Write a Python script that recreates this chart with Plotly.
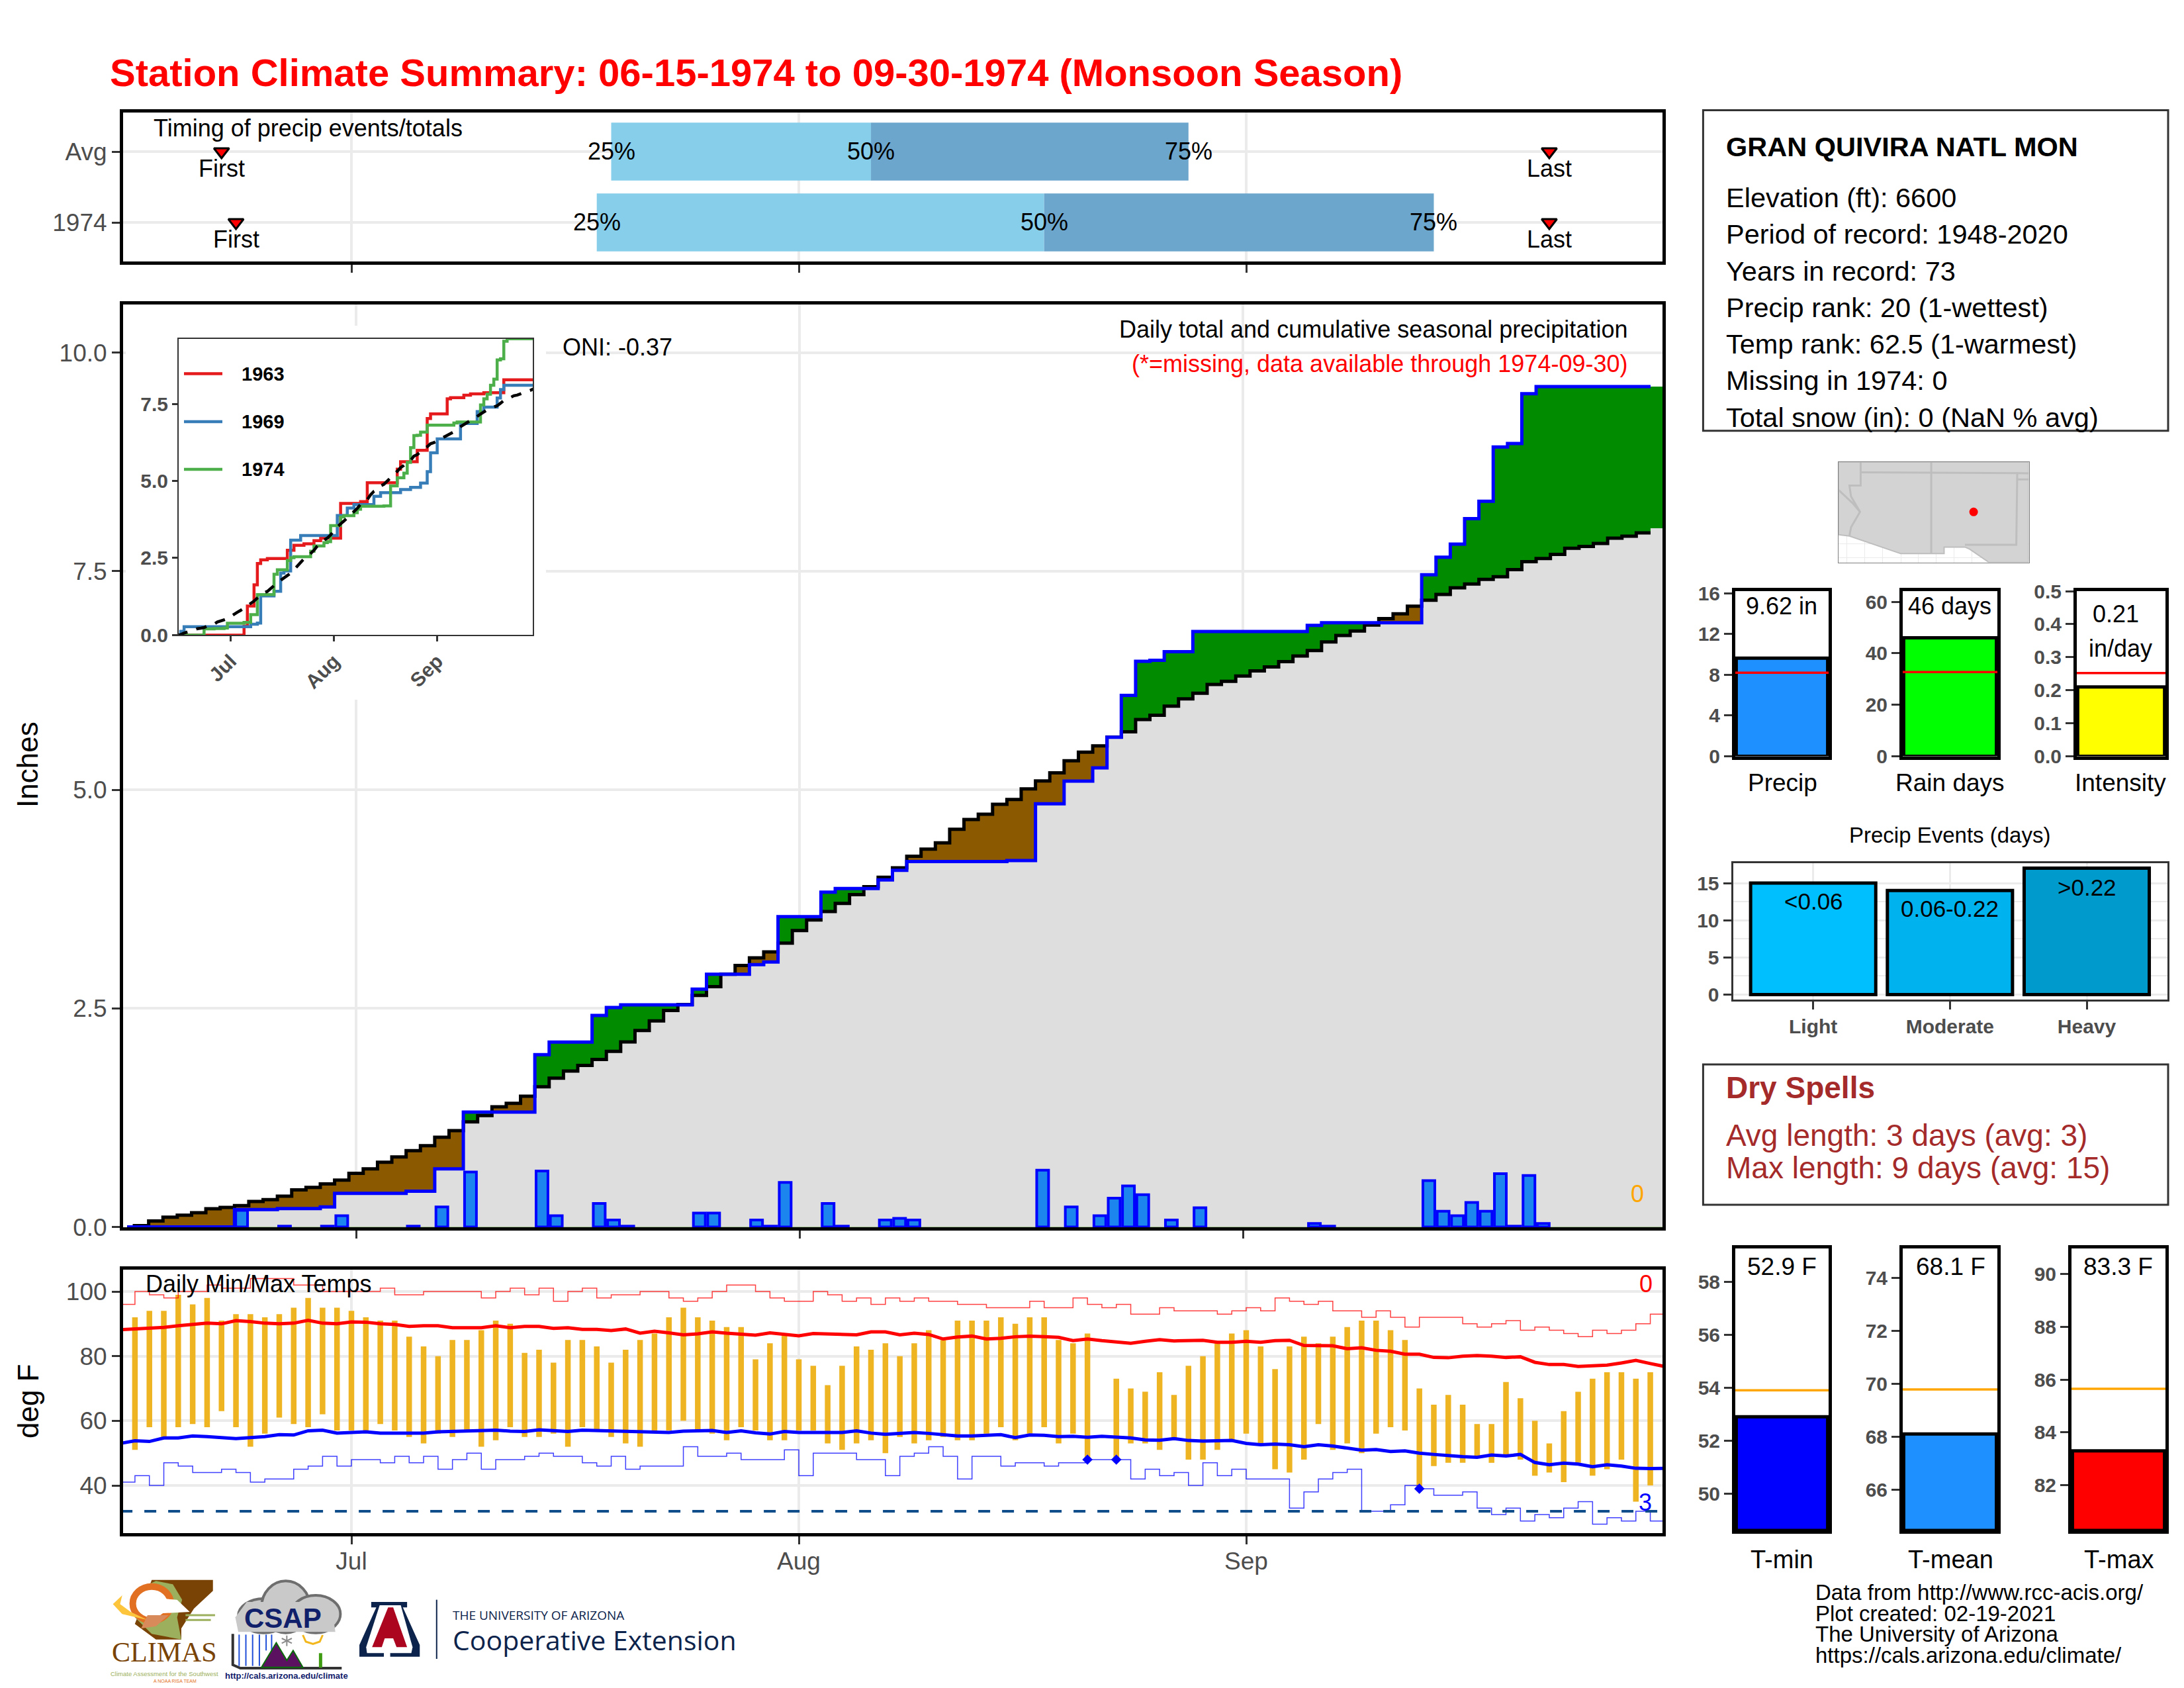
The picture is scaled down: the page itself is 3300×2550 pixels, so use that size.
# Station climate summary, monsoon season 1974

import plotly.graph_objects as go

W, H = 3300, 2550
FONT = 'Liberation Sans'

# day index: 0 = Jun 15, 16 = Jul 1, 47 = Aug 1, 78 = Sep 1, 107 = Sep 30
DAYS = list(range(108))
MONTH_TICKS = [16, 47, 78]
MONTH_LABELS = ['Jul', 'Aug', 'Sep']

# timing bars
TIMING_ROWS = ['1974', 'Avg']
TIMING_Q25 = [33, 34]
TIMING_Q50 = [64, 52]
TIMING_Q75 = [91, 74]
TIMING_FIRST = [8, 7]
TIMING_LAST = [99, 99]

# daily precip (inches)
PRECIP = [
    0, 0, 0, 0, 0, 0, 0, 0, .19, 0,
    0, .01, 0, 0, .01, .13, 0, 0, 0, 0,
    .01, 0, .23, 0, .63, 0, 0, 0, 0, .64,
    .13, 0, 0, .27, .08, .01, 0, 0, 0, 0,
    .16, .16, 0, 0, .08, .01, .51, 0, 0, .27,
    .01, 0, 0, .08, .10, .08, 0, 0, 0, 0,
    0, 0, 0, 0, .65, 0, .23, 0, .13, .33,
    .47, .37, 0, .08, 0, .22, 0, 0, 0, 0,
    0, 0, 0, .04, .01, 0, 0, 0, 0, 0,
    0, .53, .18, .13, .28, .18, .61, .01, .59, .04,
    0, 0, 0, 0, 0, 0, 0, 0,
]

# cumulative precip this season
CUM_1974 = [
    0, 0, 0, 0, 0, 0, 0, 0, .20, .20,
    .20, .21, .21, .21, .23, .385, .385, .385, .385, .385,
    .41, .41, .665, .665, 1.315, 1.315, 1.315, 1.315, 1.315, 1.97,
    2.115, 2.115, 2.115, 2.42, 2.51, 2.54, 2.54, 2.54, 2.54, 2.54,
    2.72, 2.89, 2.89, 2.89, 3.0, 3.03, 3.55, 3.55, 3.55, 3.83,
    3.87, 3.87, 3.87, 3.97, 4.08, 4.18, 4.18, 4.18, 4.18, 4.18,
    4.18, 4.18, 4.19, 4.19, 4.84, 4.84, 5.10, 5.10, 5.25, 5.60,
    6.08, 6.47, 6.48, 6.58, 6.58, 6.81, 6.81, 6.81, 6.81, 6.81,
    6.81, 6.81, 6.81, 6.88, 6.91, 6.91, 6.91, 6.91, 6.91, 6.91,
    6.91, 7.46, 7.66, 7.81, 8.10, 8.30, 8.92, 8.96, 9.53, 9.61,
    9.61, 9.61, 9.61, 9.61, 9.61, 9.61, 9.61, 9.61,
]

# cumulative precip, long term average
CUM_AVG = [
    0, .016, .068, .112, .136, .164, .208, .224, .244, .293,
    .313, .353, .425, .453, .493, .537, .613, .665, .741, .802,
    .874, .930, 1.026, 1.102, 1.202, 1.275, 1.375, 1.415, 1.495, 1.603,
    1.703, 1.784, 1.848, 1.916, 2.008, 2.116, 2.248, 2.357, 2.477, 2.545,
    2.649, 2.749, 2.89, 2.99, 3.078, 3.146, 3.246, 3.391, 3.511, 3.607,
    3.70, 3.80, 3.892, 4.0, 4.108, 4.24, 4.321, 4.393, 4.549, 4.661,
    4.721, 4.834, 4.89, 5.01, 5.102, 5.194, 5.331, 5.431, 5.503, 5.603,
    5.663, 5.804, 5.852, 5.956, 6.04, 6.105, 6.205, 6.24, 6.30, 6.36,
    6.405, 6.465, 6.53, 6.593, 6.69, 6.764, 6.815, 6.884, 6.958, 7.012,
    7.10, 7.168, 7.234, 7.309, 7.354, 7.407, 7.437, 7.518, 7.608, 7.644,
    7.692, 7.761, 7.782, 7.817, 7.877, 7.901, 7.937, 7.99,
]

# inset years, only the days where the total changes
YEAR_1963_DAYS = [0, 20, 21, 23, 24, 25, 27, 33, 35, 38, 41, 43, 49, 55, 57, 66, 67, 72, 75, 76, 81, 82, 86, 88, 92, 98, 107]
YEAR_1963 = [0, .29, .94, 1.63, 2.32, 2.44, 2.48, 2.75, 2.91, 2.96, 3.06, 3.14, 4.27, 4.33, 4.94, 5.38, 5.62, 5.99, 7.02, 7.17, 7.66, 7.70, 7.78, 7.82, 7.86, 8.28, 8.28]
YEAR_1969_DAYS = [0, 1, 2, 22, 24, 25, 29, 31, 32, 34, 37, 48, 51, 53, 59, 61, 67, 70, 73, 75, 76, 78, 85, 90, 92, 96, 97, 98, 107]
YEAR_1969 = [0, .12, .27, .35, .39, 1.27, 1.42, 2.01, 2.08, 3.08, 3.23, 3.88, 4.12, 4.23, 4.50, 4.62, 4.72, 4.79, 4.93, 5.30, 5.91, 6.36, 6.86, 7.25, 7.39, 7.69, 7.96, 8.10, 8.10]

# daily temps, deg F (None = no bar that day)
TMAX = [
    None, 92, 94, 94, 99, 96, 98, 91, 93, 93,
    92, 93, 95, 98, 95, 95, 94, 92, 91, 91,
    86, 83, 80, 85, 85, 88, 91, 90, 81, 82,
    78, 85, 85, 83, 78, 82, 85, 87, 92, 95,
    92, 91, 89, 89, 79, 84, 87, 79, 77, 71,
    77, 83, 82, 84, 80, 84, 88, 85, 91, 91,
    91, 92, 90, 92, 92, 85, 84, 87, None, 73,
    70, 69, 75, 68, 77, 80, 84, 87, 88, 83,
    76, 83, 86, 84, 86, 89, 91, 91, 88, 85,
    70, 65, 68, 65, 59, 59, 72, 67, 60, 53,
    63, 69, 73, 75, 75, 73, 75, None,
]
TMIN = [
    None, 51, 58, 55, 58, 59, 58, 63, 58, 52,
    56, 61, 59, 58, 62, 57, 57, 57, 59, 57,
    55, 53, 56, 55, 57, 52, 54, 58, 55, 55,
    56, 52, 58, 57, 55, 53, 52, 57, 57, 60,
    57, 56, 54, 58, 57, 54, 54, 57, 57, 53,
    51, 53, 54, 50, 55, 53, 54, 55, 54, 54,
    56, 58, 54, 56, 58, 53, 56, 48, None, 48,
    53, 53, 51, 54, 48, 48, 51, 54, 56, 53,
    45, 44, 48, 59, 51, 53, 50, 56, 58, 57,
    39, 46, 47, 47, 49, 47, 49, 48, 43, 44,
    41, 47, 43, 45, 48, 35, 40, None,
]

# highest and lowest on record for each day
REC_MAX = [
    96, 100, 99, 98, 100, 100, 102, 101, 101, 104,
    104, 104, 102, 102, 100, 100, 100, 100, 101, 99,
    99, 100, 100, 100, 100, 98, 100, 101, 99, 101,
    97, 100, 101, 98, 99, 99, 100, 100, 98, 97,
    98, 100, 102, 102, 100, 98, 97, 97, 100, 99,
    97, 98, 96, 98, 97, 98, 97, 97, 96, 96,
    95, 95, 95, 97, 95, 95, 98, 96, 95, 96,
    93, 93, 95, 94, 94, 94, 93, 94, 95, 94,
    98, 97, 96, 97, 94, 94, 92, 94, 92, 89,
    92, 92, 92, 90, 89, 90, 91, 88, 89, 88,
    87, 86, 88, 87, 88, 90, 93, 93,
]
REC_MIN = [
    41, 43, 40, 47, 46, 44, 44, 45, 44, 41,
    42, 42, 45, 46, 49, 46, 48, 48, 47, 49,
    47, 49, 45, 48, 50, 45, 48, 48, 49, 50,
    49, 49, 47, 46, 49, 45, 46, 46, 46, 52,
    49, 49, 50, 48, 48, 48, 51, 43, 50, 50,
    50, 48, 48, 43, 49, 50, 52, 49, 42, 49,
    49, 46, 47, 47, 46, 47, 47, 48, 48, 48,
    42, 45, 43, 44, 40, 47, 43, 45, 42, 42,
    42, 33, 38, 42, 44, 45, 32, 32, 34, 40,
    39, 37, 37, 38, 33, 31, 33, 29, 31, 30,
    33, 35, 28, 30, 29, 32, 29, 29,
]

# long term average daily max / min
AVG_MAX = [
    88.2, 88.4, 88.7, 88.9, 89.4, 89.8, 90.2, 90.0, 91.0, 90.7,
    90.2, 90.0, 90.2, 91.1, 90.2, 90.0, 90.6, 90.5, 90.0, 89.8,
    89.2, 89.4, 89.4, 88.8, 88.8, 88.8, 89.4, 88.8, 89.2, 89.2,
    88.6, 88.8, 88.3, 88.3, 87.9, 88.4, 87.1, 87.7, 87.2, 86.6,
    86.9, 87.5, 87.1, 86.9, 86.5, 87.2, 86.7, 86.3, 87.0, 86.8,
    86.7, 86.6, 87.5, 87.5, 86.6, 87.1, 86.7, 85.3, 85.9, 86.2,
    85.3, 85.5, 86.0, 86.2, 86.0, 85.8, 84.8, 85.3, 84.8, 84.3,
    84.0, 84.6, 85.1, 84.7, 84.7, 84.9, 84.3, 84.3, 84.6, 84.3,
    84.8, 84.9, 83.3, 83.2, 83.2, 82.3, 82.6, 81.8, 81.5, 80.6,
    80.6, 79.6, 79.5, 80.0, 80.2, 80.0, 79.6, 79.8, 78.1, 77.4,
    77.4, 76.8, 77.0, 77.2, 77.9, 78.7, 77.7, 76.8,
]
AVG_MIN = [
    53.0, 53.8, 53.6, 54.7, 54.7, 55.3, 55.1, 54.9, 54.5, 54.8,
    55.1, 55.7, 55.6, 56.9, 57.1, 56.2, 56.5, 56.6, 56.2, 56.2,
    56.4, 56.2, 56.6, 56.7, 56.9, 56.9, 57.1, 56.8, 56.7, 57.2,
    57.0, 56.7, 57.1, 57.0, 57.0, 56.8, 56.8, 56.6, 56.4, 56.8,
    56.9, 57.0, 56.4, 56.9, 56.3, 55.9, 56.7, 56.4, 56.4, 56.4,
    56.4, 56.9, 56.2, 55.8, 56.0, 56.4, 56.1, 55.6, 55.3, 55.3,
    55.4, 55.7, 54.8, 55.6, 55.5, 55.1, 55.2, 54.9, 55.2, 54.9,
    54.7, 54.1, 54.0, 54.5, 53.9, 53.7, 53.9, 53.9, 53.0, 52.6,
    52.8, 52.6, 52.0, 52.6, 52.2, 51.5, 50.9, 51.1, 50.5, 50.7,
    50.0, 49.6, 49.2, 48.9, 48.7, 49.4, 49.1, 49.6, 47.1, 46.4,
    46.9, 46.6, 45.8, 46.4, 46.0, 45.3, 45.2, 45.3,
]
RECORD_DAYS = [67, 69, 90]
RECORD_LOWS = [48, 48, 39]
FREEZE_DAYS = [0, 107]
FREEZE_F = [32, 32]

# right hand panels
SEASON_VALUES = [9.62, 46, 0.21]
SEASON_AVGS = [8.2, 32.7, 0.252]
EVENT_NAMES = ['Light', 'Moderate', 'Heavy']
EVENT_DAYS = [15, 14, 17]
TEMP_VALUES = [52.9, 68.1, 83.3]
TEMP_AVGS = [53.9, 69.78, 85.65]

INFO_LINES = ['Elevation (ft): 6600', 'Period of record: 1948-2020', 'Years in record: 73',
              'Precip rank: 20 (1-wettest)', 'Temp rank: 62.5 (1-warmest)', 'Missing in 1974: 0',
              'Total snow (in): 0 (NaN % avg)']
FOOTER_LINES = ['Data from http://www.rcc-acis.org/', 'Plot created: 02-19-2021',
                'The University of Arizona', 'https://cals.arizona.edu/climate/']


def dom_x(left, right):
    return [left / W, right / W]


def dom_y(top, bottom):
    return [1 - bottom / H, 1 - top / H]


def axis_range(p_lo, p_hi, p_a, v_a, p_b, v_b):
    # values at the two panel edges, from two ticks measured in pixels
    k = (v_b - v_a) / (p_b - p_a)
    return [v_a + (p_lo - p_a) * k, v_a + (p_hi - p_a) * k]


def note(x, y, text, size, color='black', anchor='center'):
    return dict(xref='paper', yref='paper', x=x / W, y=1 - y / H, text=text, showarrow=False,
                xanchor=anchor, yanchor='middle', font=dict(family=FONT, size=size, color=color))


def frame(left, top, right, bottom, color='#333333', width=3, fill='rgba(0,0,0,0)'):
    return dict(type='rect', xref='paper', yref='paper', x0=left / W, x1=right / W,
                y0=1 - bottom / H, y1=1 - top / H, line=dict(color=color, width=width),
                fillcolor=fill, layer='above')


def logo_xy(zx, zy):
    return (140 + zx / 1.568) / W, 1 - (2360 + zy / 3) / H


def logo_poly(points, fill, line=None, width=0, close=True):
    parts = []
    for n, (zx, zy) in enumerate(points):
        px, py = logo_xy(zx, zy)
        parts.append(('M' if n == 0 else 'L') + f'{px:.5f},{py:.5f}')
    return dict(type='path', xref='paper', yref='paper', path=' '.join(parts) + (' Z' if close else ''),
                fillcolor=fill, line=dict(color=line or 'rgba(0,0,0,0)', width=width), layer='above')


def logo_oval(x0, y0, x1, y1, fill, line=None, width=0):
    ax, ay = logo_xy(x0, y0)
    bx, by = logo_xy(x1, y1)
    return dict(type='circle', xref='paper', yref='paper', x0=ax, x1=bx, y0=by, y1=ay,
                fillcolor=fill, line=dict(color=line or 'rgba(0,0,0,0)', width=width), layer='above')


fig = go.Figure()
annotations = []
shapes = []

tick_font = dict(family=FONT, size=37, color='#4D4D4D')
small_font = dict(family=FONT, size=30, color='#4D4D4D', weight='bold')
panel = dict(showline=True, mirror=True, linecolor='black', linewidth=5, zeroline=False,
             ticks='outside', ticklen=12, tickwidth=3, tickcolor='#333333', tickfont=tick_font,
             gridcolor='#EBEBEB', gridwidth=4, showgrid=True)
month_x = dict(panel, tickmode='array', tickvals=MONTH_TICKS, ticktext=MONTH_LABELS)

# ---- timing panel
TOP_X = axis_range(186, 2512, 531, 16, 1883, 78)
fig.add_trace(go.Bar(y=[0, 1], x=[b - a for a, b in zip(TIMING_Q25, TIMING_Q50)], base=TIMING_Q25, orientation='h',
                     width=.82, marker=dict(color='#87CEEB', line=dict(width=0)), xaxis='x', yaxis='y'))
fig.add_trace(go.Bar(y=[0, 1], x=[b - a for a, b in zip(TIMING_Q50, TIMING_Q75)], base=TIMING_Q50, orientation='h',
                     width=.82, marker=dict(color='#6CA6CD', line=dict(width=0)), xaxis='x', yaxis='y'))
for xs in (TIMING_FIRST, TIMING_LAST):
    fig.add_trace(go.Scatter(x=xs, y=[0, 1], mode='markers', xaxis='x', yaxis='y',
                             marker=dict(symbol='triangle-down', size=20, color='red', line=dict(color='black', width=3))))
for row in (0, 1):
    for xs, label in ((TIMING_Q25, '25%'), (TIMING_Q50, '50%'), (TIMING_Q75, '75%')):
        annotations.append(dict(xref='x', yref='y', x=xs[row], y=row, text=label, showarrow=False,
                                font=dict(family=FONT, size=36, color='black')))
    annotations.append(dict(xref='x', yref='y', x=TIMING_FIRST[row], y=row, yshift=-26, text='First', showarrow=False,
                            font=dict(family=FONT, size=36, color='black')))
    annotations.append(dict(xref='x', yref='y', x=TIMING_LAST[row], y=row, yshift=-26, text='Last', showarrow=False,
                            font=dict(family=FONT, size=36, color='black')))
annotations.append(note(230, 193, 'Timing of precip events/totals', 36, anchor='left'))

# ---- main precip panel, painted back to front so only the gap keeps its colour
MAIN_X = axis_range(186, 2512, 538, 16, 1878, 78)
MAIN_Y = axis_range(1854, 460, 1853.6, 0, 532.6, 10)
FILL_DAYS = DAYS + [108]
FILL_AVG = CUM_AVG + [CUM_AVG[-1]]
FILL_OBS = CUM_1974 + [CUM_1974[-1]]
FILL_LOW = [min(a, b) for a, b in zip(FILL_AVG, FILL_OBS)]
for ys, col in ((FILL_AVG, '#8B5A00'), (FILL_OBS, '#008B00'), (FILL_LOW, '#DEDEDE')):
    fig.add_trace(go.Scatter(x=FILL_DAYS, y=ys, mode='lines', line=dict(width=0, shape='hvh'), fill='tozeroy',
                             fillcolor=col, xaxis='x2', yaxis='y2'))

# bars go on an overlay axis, otherwise the filled areas would cover them
fig.add_trace(go.Bar(x=DAYS, y=[v if v else None for v in PRECIP], width=.83,
                     marker=dict(color='#1C86EE', line=dict(color='#0000FF', width=4)), xaxis='x2', yaxis='y3'))
LINE_DAYS = DAYS[:107] + [106.5]
fig.add_trace(go.Scatter(x=LINE_DAYS, y=CUM_AVG[:107] + [CUM_AVG[106]], mode='lines',
                         line=dict(color='black', width=5, shape='hvh'), xaxis='x2', yaxis='y3'))
fig.add_trace(go.Scatter(x=LINE_DAYS, y=CUM_1974[:107] + [CUM_1974[106]], mode='lines',
                         line=dict(color='#0000FF', width=5, shape='hvh'), xaxis='x2', yaxis='y3'))


# white block behind the inset hides the grid there
def main_px_x(px):
    return MAIN_X[0] + (px - 186) * (MAIN_X[1] - MAIN_X[0]) / (2512 - 186)


def main_px_y(py):
    return MAIN_Y[0] + (py - 1854) * (MAIN_Y[1] - MAIN_Y[0]) / (460 - 1854)


shapes.append(dict(type='rect', xref='x2', yref='y2', x0=main_px_x(190), x1=main_px_x(825), y0=main_px_y(1057), y1=main_px_y(492),
                   fillcolor='white', line=dict(width=0), layer='between'))
annotations.append(note(848, 524, 'ONI: -0.37', 36, anchor='left'))
annotations.append(note(2461, 497, 'Daily total and cumulative seasonal precipitation', 36, anchor='right'))
annotations.append(note(2461, 549, '(*=missing, data available through 1974-09-30)', 36, color='red', anchor='right'))
annotations.append(note(2474, 1804, '0', 36, color='orange'))
annotations.append(note(42, 1155, 'Inches', 44))
annotations[-1]['textangle'] = -90

# ---- inset of selected years
INSET_X = axis_range(270, 805, 348.6, 16, 660.6, 78)
INSET_Y = axis_range(959.4, 512, 959.4, 0, 610, 7.5)
for xs, ys, col in ((YEAR_1963_DAYS, YEAR_1963, '#E41A1C'), (YEAR_1969_DAYS, YEAR_1969, '#377EB8'), (DAYS, CUM_1974, '#4DAF4A')):
    fig.add_trace(go.Scatter(x=xs, y=ys, mode='lines', line=dict(color=col, width=4.5, shape='hv'), xaxis='x5', yaxis='y5'))
fig.add_trace(go.Scatter(x=DAYS, y=CUM_AVG, mode='lines', line=dict(color='black', width=4.5, dash='16px,14px'), xaxis='x5', yaxis='y5'))
for label, col, py in (('1963', '#E41A1C', 564.5), ('1969', '#377EB8', 637), ('1974', '#4DAF4A', 709)):
    shapes.append(dict(type='line', xref='paper', yref='paper', x0=278 / W, x1=336 / W, y0=1 - py / H, y1=1 - py / H,
                       line=dict(color=col, width=4.5), layer='above'))
    annotations.append(note(363, py, f'<b>{label}</b>', 29, anchor='left'))

# ---- daily temps panel
fig.add_trace(go.Bar(x=DAYS, base=TMIN, y=[None if hi is None else hi - lo for hi, lo in zip(TMAX, TMIN)], width=.39,
                     marker=dict(color='#EEB422', line=dict(width=0)), xaxis='x4', yaxis='y4'))
fig.add_trace(go.Scatter(x=DAYS, y=REC_MAX, mode='lines', line=dict(color='rgba(255,0,0,.75)', width=1.5, shape='hv'), xaxis='x4', yaxis='y4'))
fig.add_trace(go.Scatter(x=DAYS, y=REC_MIN, mode='lines', line=dict(color='rgba(0,0,255,.75)', width=1.5, shape='hv'), xaxis='x4', yaxis='y4'))
fig.add_trace(go.Scatter(x=FREEZE_DAYS, y=FREEZE_F, mode='lines', line=dict(color='#104E8B', width=4, dash='18px,18px'), xaxis='x4', yaxis='y4'))
fig.add_trace(go.Scatter(x=DAYS, y=AVG_MAX, mode='lines', line=dict(color='red', width=5), xaxis='x4', yaxis='y4'))
fig.add_trace(go.Scatter(x=DAYS, y=AVG_MIN, mode='lines', line=dict(color='#0000FF', width=5), xaxis='x4', yaxis='y4'))
fig.add_trace(go.Scatter(x=RECORD_DAYS, y=RECORD_LOWS, mode='markers', marker=dict(symbol='diamond', size=12, color='#0000FF'), xaxis='x4', yaxis='y4'))
annotations.append(note(218, 1939, 'Daily Min/Max Temps', 36, anchor='left'))
annotations.append(note(2487, 1939, '0', 36, color='red'))
annotations.append(note(2486, 2269, '3', 36, color='#0000FF'))
annotations.append(note(42, 2117, 'deg F', 44))
annotations[-1]['textangle'] = -90

TEMP_Y = axis_range(2316, 1918, 1951, 100, 2244, 40)

layout = dict(
    template='none', width=W, height=H, margin=dict(l=0, r=0, t=0, b=0, autoexpand=False), showlegend=False, barmode='overlay',
    paper_bgcolor='white', plot_bgcolor='white', font=dict(family=FONT),
    xaxis=dict(month_x, domain=dom_x(186, 2512), range=TOP_X, anchor='y', showticklabels=False),
    yaxis=dict(panel, domain=dom_y(169.5, 394.5), range=axis_range(394.5, 169.5, 336, 0, 229, 1), anchor='x',
               tickmode='array', tickvals=[0, 1], ticktext=TIMING_ROWS),
    xaxis2=dict(month_x, domain=dom_x(186, 2512), range=MAIN_X, anchor='y2', showticklabels=False),
    yaxis2=dict(panel, domain=dom_y(460, 1854), range=MAIN_Y, anchor='x2', tickmode='array',
                tickvals=[0, 2.5, 5, 7.5, 10], tickformat='.1f'),
    yaxis3=dict(domain=dom_y(460, 1854), range=MAIN_Y, anchor='x2', overlaying='y2', visible=False, showgrid=False),
    xaxis4=dict(month_x, domain=dom_x(186, 2512), range=TOP_X, anchor='y4', ticklabelstandoff=-6),
    yaxis4=dict(panel, domain=dom_y(1918, 2316), range=TEMP_Y, anchor='x4', tickmode='array', tickvals=[40, 60, 80, 100]),
    xaxis5=dict(domain=dom_x(270, 805), range=INSET_X, anchor='y5', showline=True, mirror=True, linecolor='#333333', linewidth=2,
                showgrid=False, zeroline=False, ticks='outside', ticklen=8, tickwidth=3, tickcolor='#333333', tickfont=small_font,
                tickmode='array', tickvals=MONTH_TICKS, ticktext=MONTH_LABELS, tickangle=-45),
    yaxis5=dict(domain=dom_y(512, 959.4), range=INSET_Y, anchor='x5', showline=True, mirror=True, linecolor='#333333', linewidth=2,
                showgrid=False, zeroline=False, ticks='outside', ticklen=8, tickwidth=3, tickcolor='#333333', tickfont=small_font,
                tickmode='array', tickvals=[0, 2.5, 5, 7.5], tickformat='.1f'),
)

# ---- little locator map, outline read in the map's own pixel units
MAP_LAND_X = [491, 1084, 1084, 960, 940, 900, 885, 820, 820, 685, 525, 491, 491]
MAP_LAND_Y = [826, 826, 1055, 1055, 1045, 1025, 1020, 1020, 1035, 1035, 995, 992, 826]
MAP_LINES = [
    ([780, 780], [826, 1035]),
    ([560, 1084], [850, 852]),
    ([560, 560, 525, 530, 558, 530, 525], [826, 880, 880, 905, 940, 975, 995]),
    ([491, 535, 558], [890, 920, 940]),
    ([1048, 1045, 885], [850, 1015, 1015]),
    ([1048, 1084], [866, 866]),
]
MAP_STATION_X = [912]
MAP_STATION_Y = [940]
fig.add_trace(go.Scatter(x=MAP_LAND_X, y=MAP_LAND_Y, mode='lines', fill='toself', fillcolor='#D3D3D3',
                         line=dict(width=2, color='#BEBEBE'), xaxis='x6', yaxis='y6'))
for xs, ys in MAP_LINES:
    fig.add_trace(go.Scatter(x=xs, y=ys, mode='lines', line=dict(color='#BEBEBE', width=3), xaxis='x6', yaxis='y6'))
fig.add_trace(go.Scatter(x=MAP_STATION_X, y=MAP_STATION_Y, mode='markers', marker=dict(color='red', size=13), xaxis='x6', yaxis='y6'))
layout['xaxis6'] = dict(domain=dom_x(2778, 3065.5), range=[491, 1084], anchor='y6', showticklabels=False, ticks='', zeroline=False,
                        tickmode='array', tickvals=[516, 572, 628, 685, 740, 795, 850, 906], showgrid=True, gridcolor='#EBEBEB', gridwidth=1,
                        showline=True, mirror=True, linecolor='#7F7F7F', linewidth=1)
layout['yaxis6'] = dict(domain=dom_y(697.7, 849.6), range=[1055, 826], anchor='x6', showticklabels=False, ticks='', zeroline=False,
                        tickmode='array', tickvals=[1012, 1045], showgrid=True, gridcolor='#EBEBEB', gridwidth=1,
                        showline=True, mirror=True, linecolor='#7F7F7F', linewidth=1)


# ---- single bar gauges
def gauge(n, left, right, top, bottom, y_range, ticks, value, avg, color, avg_color, tick_text=None):
    xa, ya = f'xaxis{n}', f'yaxis{n}'
    fig.add_trace(go.Bar(x=[0], y=[value - y_range[0]], base=y_range[0], width=.98,
                         marker=dict(color=color, line=dict(color='black', width=5)), xaxis=f'x{n}', yaxis=f'y{n}'))
    fig.add_trace(go.Scatter(x=[-.5, .5], y=[avg, avg], mode='lines', line=dict(color=avg_color, width=3.5), xaxis=f'x{n}', yaxis=f'y{n}'))
    layout[xa] = dict(domain=dom_x(left, right), range=[-.5, .5], anchor=f'y{n}', showticklabels=False, ticks='', showgrid=False,
                      zeroline=False, showline=True, mirror=True, linecolor='black', linewidth=5)
    layout[ya] = dict(domain=dom_y(top, bottom), range=y_range, anchor=f'x{n}', showgrid=False, zeroline=False, showline=True,
                      mirror=True, linecolor='black', linewidth=5, ticks='outside', ticklen=12, tickwidth=3, tickcolor='#333333',
                      tickfont=small_font, tickmode='array', tickvals=ticks, ticktext=tick_text or [str(t) for t in ticks])


gauge(7, 2622, 2763, 893, 1142.5, axis_range(1142.5, 893, 1142.5, 0, 896, 16), [0, 4, 8, 12, 16], SEASON_VALUES[0], SEASON_AVGS[0], '#1E90FF', 'red')
gauge(8, 2875, 3018, 893, 1142.5, axis_range(1142.5, 893, 1142.5, 0, 909, 60), [0, 20, 40, 60], SEASON_VALUES[1], SEASON_AVGS[1], '#00FF00', 'red')
gauge(9, 3138, 3272, 893, 1142.5, [0, .5], [0, .1, .2, .3, .4, .5], SEASON_VALUES[2], SEASON_AVGS[2], '#FFFF00', 'red',
      tick_text=['0.0', '0.1', '0.2', '0.3', '0.4', '0.5'])
annotations += [note(2692, 915, '9.62 in', 36), note(2946, 915, '46 days', 36), note(3197, 927, '0.21', 36), note(3204, 979, 'in/day', 36),
                note(2693, 1183, 'Precip', 37), note(2946, 1183, 'Rain days', 37), note(3204, 1183, 'Intensity', 37)]

gauge(11, 2622, 2763, 1886, 2312, axis_range(2312, 1886, 2256, 50, 1936.7, 58), [50, 52, 54, 56, 58], TEMP_VALUES[0], TEMP_AVGS[0], '#0000FF', 'orange')
gauge(12, 2875, 3018, 1886, 2312, axis_range(2312, 1886, 2250.3, 66, 1930.2, 74), [66, 68, 70, 72, 74], TEMP_VALUES[1], TEMP_AVGS[1], '#1E90FF', 'orange')
gauge(13, 3130, 3272, 1886, 2312, axis_range(2312, 1886, 2243.8, 82, 1924.2, 90), [82, 84, 86, 88, 90], TEMP_VALUES[2], TEMP_AVGS[2], '#FF0000', 'orange')
annotations += [note(2692, 1913, '52.9 F', 37), note(2947, 1913, '68.1 F', 37), note(3200, 1913, '83.3 F', 37),
                note(2692, 2356, 'T-min', 38), note(2947, 2356, 'T-mean', 38), note(3202, 2356, 'T-max', 38)]

# ---- precip events
fig.add_trace(go.Bar(x=[0, 1, 2], y=EVENT_DAYS, width=.915, marker=dict(color=['#00BFFF', '#00B2EE', '#009ACD'], line=dict(color='black', width=5)),
                     xaxis='x10', yaxis='y10'))
layout['xaxis10'] = dict(domain=dom_x(2618.5, 3275), range=axis_range(2618.5, 3275, 2739.7, 0, 3153, 2), anchor='y10', showline=True, mirror=True,
                         linecolor='#333333', linewidth=3, zeroline=False, ticks='outside', ticklen=12, tickwidth=3, tickcolor='#333333',
                         tickfont=dict(small_font, size=30), tickmode='array', tickvals=[0, 1, 2], ticktext=EVENT_NAMES,
                         gridcolor='#EBEBEB', gridwidth=3)
layout['yaxis10'] = dict(domain=dom_y(1304, 1510), range=axis_range(1510, 1304, 1502.4, 0, 1334, 15), anchor='x10', showline=True, mirror=True,
                         linecolor='#333333', linewidth=3, zeroline=False, ticks='outside', ticklen=12, tickwidth=3, tickcolor='#333333',
                         tickfont=dict(small_font, size=30), tickmode='array', tickvals=[0, 5, 10, 15],
                         gridcolor='#EBEBEB', gridwidth=3, minor=dict(tickvals=[2.5, 7.5, 12.5], showgrid=True, gridcolor='#EBEBEB', gridwidth=2, ticks=''))
annotations += [note(2946, 1261, 'Precip Events (days)', 33), note(2740, 1361, '&lt;0.06', 35), note(2946, 1372, '0.06-0.22', 35), note(3153, 1340, '&gt;0.22', 35)]

# ---- text boxes
shapes.append(frame(2573.4, 166.6, 3276, 650.7))
annotations.append(note(2606, 221, '<b>GRAN QUIVIRA NATL MON</b>', 41.5, anchor='left'))
for n, line in enumerate(INFO_LINES):
    annotations.append(note(2606, 298.5 + n * 55.3, line, 41.5, anchor='left'))
shapes.append(frame(2573.4, 1608, 3276, 1820))
annotations.append(note(2606, 1643, '<b>Dry Spells</b>', 46, color='#A52A2A', anchor='left'))
annotations.append(note(2606, 1715, 'Avg length: 3 days (avg: 3)', 46, color='#A52A2A', anchor='left'))
annotations.append(note(2606, 1764, 'Max length: 9 days (avg: 15)', 46, color='#A52A2A', anchor='left'))
for n, line in enumerate(FOOTER_LINES):
    annotations.append(note(2741, 2405.5 + n * 31.6, line, 33, anchor='left'))
annotations.append(note(164, 110, '<b>Station Climate Summary: 06-15-1974 to 09-30-1974 (Monsoon Season)</b>', 58, color='red', anchor='left'))

# ---- logos, drawn roughly
NAVY = '#0C234B'
shapes += [
    logo_poly([(140, 80), (285, 80), (285, 130), (240, 210), (210, 300), (210, 350), (150, 350), (100, 280)], '#7A4306'),
    logo_poly([(150, 85), (190, 100), (212, 170), (200, 250), (210, 350), (140, 325), (100, 250), (90, 180), (110, 120)], '#9CAF5C'),
    logo_oval(95, 110, 185, 265, 'white', '#E27022', 10),
    logo_poly([(70, 150), (48, 190), (70, 235), (130, 262), (90, 225), (65, 190)], '#FDC53C'),
    logo_poly([(130, 160), (200, 170), (230, 225), (130, 235)], 'white'),
    logo_poly([(115, 300), (130, 240), (180, 240), (150, 290)], '#D98A5A'),
    logo_poly([(220, 240), (290, 240)], 'rgba(0,0,0,0)', '#9CAF5C', 3, close=False),
    logo_poly([(220, 262), (280, 262)], 'rgba(0,0,0,0)', '#9CAF5C', 3, close=False),
    logo_oval(345, 165, 465, 320, '#C9C9C9', '#6E6E6E', 4),
    logo_oval(400, 85, 515, 320, '#C9C9C9', '#6E6E6E', 4),
    logo_oval(470, 150, 587, 320, '#C9C9C9', '#6E6E6E', 4),
    logo_poly([(365, 180), (565, 180), (575, 316), (345, 316), (338, 250)], '#C9C9C9'),
    logo_poly([(332, 325), (332, 465), (350, 480), (590, 480)], 'rgba(0,0,0,0)', '#333333', 4, close=False),
]
for zx in (347, 363, 379, 395, 411, 424):
    shapes.append(logo_poly([(zx, 328), (zx, 470 if zx < 411 else 400)], 'rgba(0,0,0,0)', '#1F4FD8', 2, close=False))
shapes += [
    logo_poly([(400, 476), (435, 365), (460, 445), (475, 400), (498, 476)], '#5C1060', '#0B6B0B', 2),
    logo_poly([(540, 412), (540, 478)], 'rgba(0,0,0,0)', '#3F9B12', 5, close=False),
    logo_poly([(498, 330), (505, 360), (522, 370), (538, 360), (545, 330)], 'rgba(0,0,0,0)', '#F3B71E', 3, close=False),
    logo_poly([(460, 332), (460, 380)], 'rgba(0,0,0,0)', '#8A8A8A', 2, close=False),
    logo_poly([(448, 345), (472, 367)], 'rgba(0,0,0,0)', '#8A8A8A', 2, close=False),
    logo_poly([(472, 345), (448, 367)], 'rgba(0,0,0,0)', '#8A8A8A', 2, close=False),
    logo_poly([(660, 180), (745, 180), (745, 205), (735, 205), (775, 375), (775, 428), (690, 428), (690, 405), (715, 405), (710, 380),
               (695, 380), (690, 405), (705, 405), (705, 428), (632, 428), (632, 375), (672, 205), (660, 205)], NAVY),
    logo_poly([(680, 195), (730, 195), (758, 385), (755, 412), (650, 412), (648, 385)], 'white'),
    logo_poly([(700, 205), (712, 205), (745, 385), (720, 385), (712, 345), (692, 345), (685, 385), (662, 385)], '#AB0520'),
    logo_poly([(815, 170), (815, 438)], 'rgba(0,0,0,0)', NAVY, 2, close=False),
]
annotations += [
    dict(note(248, 2496, 'CLIMAS', 42, color='#7A4306'), font=dict(family='Liberation Serif', size=42, color='#7A4306')),
    note(248, 2528, 'Climate Assessment for the Southwest', 9.5, color='#9CAF5C'),
    note(264, 2539, 'A NOAA RISA TEAM', 7, color='#E27022'),
    note(427, 2444, '<b>CSAP</b>', 42, color='#10206B'),
    note(433, 2531, '<b>http://cals.arizona.edu/climate</b>', 13, color='#10206B'),
    dict(note(682, 2440, 'THE UNIVERSITY OF ARIZONA', 19, color=NAVY, anchor='left'), font=dict(family='Open Sans', size=19, color=NAVY)),
    dict(note(682, 2477, 'Cooperative Extension', 41, color=NAVY, anchor='left'), font=dict(family='Open Sans', size=41, color=NAVY)),
]

fig.update_layout(**layout, annotations=annotations, shapes=shapes)
fig.write_html('out.html', config=dict(displayModeBar=False), post_script="document.body.style.margin='0';")
